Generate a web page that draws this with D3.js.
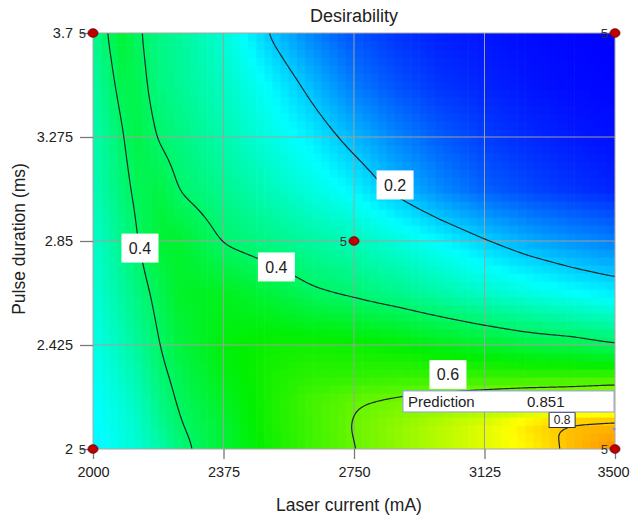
<!DOCTYPE html>
<meta charset="utf-8">
<script src="https://d3js.org/d3.v7.min.js"></script>
<title>Desirability</title>

<div id="my_dataviz"></div>

<style>
    body { margin: 0; background: #fff; }
    text { font-family: Arial, "Liberation Sans", sans-serif; }
</style>

<script>
    // grid of desirability values (rows top -> bottom)
    const gridX = [2000, 2042, 2085, 2128, 2190, 2250, 2375, 2500, 2625, 2750, 2875, 3000, 3125, 3250, 3375, 3500];
    const gridY = [3.7, 3.4875, 3.275, 3.0625, 2.85, 2.6375, 2.425, 2.3, 2.2, 2.1, 2.0];
    const desirability = [
        [0.36, 0.40, 0.45, 0.405, 0.37, 0.35, 0.29, 0.20, 0.13, 0.08, 0.05, 0.03, 0.02, 0.01, 0.005, 0.0],
        [0.34, 0.38, 0.425, 0.42, 0.375, 0.355, 0.31, 0.25, 0.185, 0.12, 0.08, 0.05, 0.035, 0.02, 0.01, 0.005],
        [0.33, 0.36, 0.40, 0.43, 0.395, 0.375, 0.33, 0.28, 0.235, 0.18, 0.13, 0.09, 0.06, 0.04, 0.025, 0.015],
        [0.32, 0.35, 0.385, 0.415, 0.435, 0.395, 0.36, 0.32, 0.28, 0.24, 0.185, 0.135, 0.095, 0.07, 0.05, 0.035],
        [0.30, 0.33, 0.365, 0.40, 0.45, 0.455, 0.395, 0.37, 0.345, 0.32, 0.285, 0.245, 0.205, 0.17, 0.145, 0.125],
        [0.29, 0.315, 0.345, 0.375, 0.42, 0.46, 0.47, 0.445, 0.41, 0.39, 0.365, 0.335, 0.305, 0.28, 0.255, 0.235],
        [0.27, 0.295, 0.32, 0.35, 0.40, 0.44, 0.49, 0.51, 0.515, 0.51, 0.50, 0.48, 0.46, 0.44, 0.43, 0.405],
        [0.26, 0.28, 0.305, 0.33, 0.385, 0.42, 0.48, 0.52, 0.54, 0.545, 0.55, 0.55, 0.55, 0.55, 0.55, 0.555],
        [0.25, 0.27, 0.29, 0.315, 0.37, 0.41, 0.465, 0.52, 0.565, 0.595, 0.61, 0.625, 0.64, 0.655, 0.665, 0.68],
        [0.245, 0.26, 0.28, 0.30, 0.355, 0.398, 0.45, 0.52, 0.56, 0.605, 0.64, 0.68, 0.72, 0.775, 0.815, 0.82],
        [0.24, 0.255, 0.275, 0.295, 0.33, 0.38, 0.45, 0.51, 0.56, 0.598, 0.64, 0.68, 0.72, 0.76, 0.815, 0.86]
    ];

    const xTicks = [2000, 2375, 2750, 3125, 3500];
    const yTicks = [2, 2.425, 2.85, 3.275, 3.7];
    const contourLevels = [0.2, 0.4, 0.6, 0.8];

    // contour labels
    const labelText = ["0.4", "0.4", "0.2", "0.6", "0.8"];
    const labelX = [2135, 2527, 2868, 3020, 3348];
    const labelY = [2.821, 2.744, 3.079, 2.304, 2.1185];

    // design points
    const designX = [2000, 3500, 2750, 2000, 3500];
    const designY = [3.7, 3.7, 2.85, 2.0, 2.0];
    const designRuns = ["5", "5", "5", "5", "5"];

    // prediction flag
    const predX = 3500, predY = 2.082, predValue = "0.851";

    const width = 630, height = 517;
    const plot = {left: 93, right: 615, top: 33, bottom: 449};

    const svg = d3.select("#my_dataviz")
        .append("svg")
        .attr("width", width)
        .attr("height", height);

    const x = d3.scaleLinear().domain([2000, 3500]).range([plot.left, plot.right]);
    const y = d3.scaleLinear().domain([2, 3.7]).range([plot.bottom, plot.top]);

    const color = d3.scaleLinear()
        .domain([0, 0.25, 0.5, 0.75, 1])
        .range(["#0000ff", "#00ffff", "#00f000", "#ffff00", "#ff0000"])
        .clamp(true);

    // bilinear lookup through scales
    const rowScales = desirability.map(r => d3.scaleLinear().domain(gridX).range(r).clamp(true));
    function columnScale(X) {
        return d3.scaleLinear().domain(gridY).range(rowScales.map(s => s(X))).clamp(true);
    }

    svg.append("clipPath").attr("id", "plotclip")
        .append("rect")
        .attr("x", plot.left).attr("y", plot.top)
        .attr("width", plot.right - plot.left).attr("height", plot.bottom - plot.top);

    // blocky heat map
    const nCx = 64, nCy = 52;
    const cw = 1500 / nCx, ch = 1.7 / nCy;
    const cells = [];
    for (let i = 0; i < nCx; i++) {
        const X0 = 2000 + i * cw;
        const cs = columnScale(X0 + cw / 2);
        for (let j = 0; j < nCy; j++) {
            const Y0 = 2 + j * ch;
            cells.push({x0: X0, x1: X0 + cw, y0: Y0, y1: Y0 + ch, v: cs(Y0 + ch / 2)});
        }
    }
    svg.append("g")
        .attr("clip-path", "url(#plotclip)")
        .selectAll("rect")
        .data(cells)
        .join("rect")
        .attr("x", d => x(d.x0))
        .attr("y", d => y(d.y1))
        .attr("width", d => x(d.x1) - x(d.x0) + 0.6)
        .attr("height", d => y(d.y0) - y(d.y1) + 0.6)
        .attr("fill", d => color(d.v));

    // grid lines
    svg.append("g").selectAll("line")
        .data(xTicks.slice(1, -1))
        .join("line")
        .attr("x1", d => x(d)).attr("x2", d => x(d))
        .attr("y1", plot.top).attr("y2", plot.bottom)
        .attr("stroke", "#a0a0a0").attr("stroke-width", 1);
    svg.append("g").selectAll("line")
        .data(yTicks.slice(1, -1))
        .join("line")
        .attr("y1", d => y(d)).attr("y2", d => y(d))
        .attr("x1", plot.left).attr("x2", plot.right)
        .attr("stroke", "#a0a0a0").attr("stroke-width", 1);

    // contour lines
    const step = 2, pad = 6;
    const cx0 = plot.left - pad, cy0 = plot.top - pad;
    const nx = Math.round((plot.right - plot.left + 2 * pad) / step) + 1;
    const ny = Math.round((plot.bottom - plot.top + 2 * pad) / step) + 1;
    const values = new Float64Array(nx * ny);
    for (let i = 0; i < nx; i++) {
        const cs = columnScale(x.invert(cx0 + i * step));
        for (let j = 0; j < ny; j++) {
            values[j * nx + i] = cs(y.invert(cy0 + j * step));
        }
    }
    if (d3.blur2) d3.blur2({data: values, width: nx, height: ny}, 3);

    const contours = d3.contours().size([nx, ny]).thresholds(contourLevels)(values);
    const toPx = d3.geoTransform({
        point: function(px, py) { this.stream.point(cx0 + px * step - 0.5, cy0 + py * step - 0.5); }
    });
    svg.append("g")
        .attr("clip-path", "url(#plotclip)")
        .selectAll("path")
        .data(contours)
        .join("path")
        .attr("d", d3.geoPath(toPx))
        .attr("fill", "none")
        .attr("stroke", "#1b2a2a")
        .attr("stroke-width", 1.2);

    // plot border
    svg.append("rect")
        .attr("x", plot.left).attr("y", plot.top)
        .attr("width", plot.right - plot.left).attr("height", plot.bottom - plot.top)
        .attr("fill", "none").attr("stroke", "#a8a8a8");

    // contour labels
    const labels = svg.append("g").selectAll("g")
        .data(labelText.map((t, i) => ({t: t, X: labelX[i], Y: labelY[i], small: t === "0.8"})))
        .join("g")
        .attr("transform", d => `translate(${x(d.X)},${y(d.Y)})`);
    labels.append("rect")
        .attr("x", d => d.small ? -13 : -18.5)
        .attr("y", d => d.small ? -7.5 : -14.5)
        .attr("width", d => d.small ? 26 : 37)
        .attr("height", d => d.small ? 15 : 29)
        .attr("fill", "white")
        .attr("stroke", d => d.small ? "#333" : "none")
        .attr("stroke-width", 1);
    labels.append("text")
        .attr("text-anchor", "middle")
        .attr("dy", "0.36em")
        .style("font-size", d => d.small ? "12px" : "16px")
        .style("fill", "#222")
        .text(d => d.t);

    // prediction flag
    const flag = svg.append("g");
    flag.append("rect")
        .attr("x", 403).attr("y", y(predY) - 38)
        .attr("width", x(predX) - 1 - 403).attr("height", 21)
        .attr("fill", "white").attr("stroke", "#9a9af0");
    flag.append("text")
        .attr("x", 408).attr("y", y(predY) - 22)
        .style("font-size", "15px").style("fill", "#222")
        .text("Prediction");
    flag.append("text")
        .attr("x", 527).attr("y", y(predY) - 22)
        .style("font-size", "15px").style("fill", "#222")
        .text(predValue);
    flag.append("circle")
        .attr("cx", x(predX) - 1).attr("cy", y(predY))
        .attr("r", 1.5).attr("fill", "#8a8af0");

    // axes
    const xAxis = svg.append("g")
        .attr("transform", `translate(0,${plot.bottom})`)
        .call(d3.axisBottom(x).tickValues(xTicks).tickSize(10).tickPadding(8).tickFormat(d => String(d)));
    const yAxis = svg.append("g")
        .attr("transform", `translate(${plot.left},0)`)
        .call(d3.axisLeft(y).tickValues(yTicks).tickSize(13).tickPadding(7).tickFormat(d => String(d)));
    [xAxis, yAxis].forEach(a => {
        a.select(".domain").remove();
        a.selectAll(".tick line").attr("stroke", "#7a7a7a").attr("stroke-width", 1.3);
        a.selectAll(".tick text")
            .style("font-size", "14.5px")
            .style("font-family", 'Arial, "Liberation Sans", sans-serif')
            .attr("fill", "#222");
    });
    // keep the last x label inside the page
    xAxis.selectAll(".tick text").filter(d => d === 3500).attr("dx", -2);

    // design points
    const pts = svg.append("g").selectAll("g")
        .data(designX.map((d, i) => ({X: d, Y: designY[i], n: designRuns[i]})))
        .join("g")
        .attr("transform", d => `translate(${x(d.X)},${y(d.Y)})`);
    pts.append("text")
        .attr("x", -7).attr("dy", "0.35em")
        .attr("text-anchor", "end")
        .style("font-size", "13px").style("fill", "#333")
        .text(d => d.n);
    pts.append("ellipse")
        .attr("rx", 5).attr("ry", 4.3)
        .attr("fill", "#c00000").attr("stroke", "#5a0000").attr("stroke-width", 0.8);

    // titles
    svg.append("text")
        .attr("x", 354).attr("y", 22)
        .attr("text-anchor", "middle")
        .style("font-size", "18px").style("fill", "#222")
        .text("Desirability");
    svg.append("text")
        .attr("x", 349).attr("y", 511)
        .attr("text-anchor", "middle")
        .style("font-size", "17.5px").style("fill", "#222")
        .text("Laser current (mA)");
    svg.append("text")
        .attr("transform", "translate(25,239) rotate(-90)")
        .attr("text-anchor", "middle")
        .style("font-size", "17.5px").style("fill", "#222")
        .text("Pulse duration (ms)");
</script>
